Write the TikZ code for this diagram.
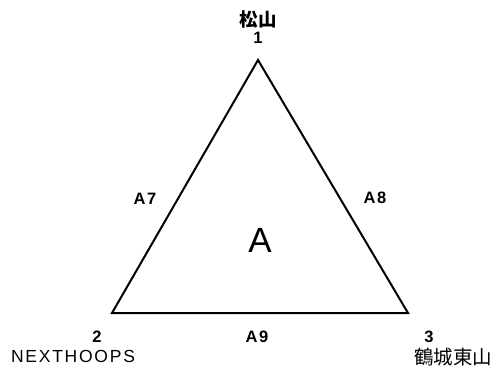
\documentclass[tikz,border=0pt]{standalone}
\usepackage{fontspec}
\setmainfont{Liberation Sans}
\newfontfamily\lab[LetterSpace=10]{Liberation Sans}
\newfontfamily\cjk{Noto Sans CJK JP}
\begin{document}
\begin{tikzpicture}[x=1pt,y=-1pt,
  edge/.style={line width=2pt,line join=miter},
  vlab/.style={inner sep=0pt,font=\lab\bfseries\fontsize{16.5}{16.5}\selectfont},
  elab/.style={inner sep=0pt,font=\lab\bfseries\fontsize{16.5}{16.5}\selectfont},
  nlab/.style={inner sep=0pt,font=\lab\fontsize{17.5}{17.5}\selectfont},
  jlab/.style={inner sep=0pt,font=\cjk\fontsize{19.5}{19.5}\selectfont}]
\useasboundingbox (0,0) rectangle (497,367);
\coordinate (v1) at (258,60);
\coordinate (v2) at (112,313);
\coordinate (v3) at (408,313);
\draw[edge] (v1) -- (v2) -- (v3) -- cycle;
\node[jlab,font=\cjk\bfseries\fontsize{18.5}{18.5}\selectfont] (n1name) at (258,19) {松山};
\node[vlab] (n1) at (258,38) {1};
\node[vlab] (n2) at (97,337) {2};
\node[nlab] (n2name) at (73,356) {NEXTHOOPS};
\node[vlab] (n3) at (429,337) {3};
\node[jlab] (n3name) at (453,357) {鶴城東山};
\node[elab] (a7) at (145,199) {A7};
\node[elab] (a8) at (375,198) {A8};
\node[elab] (a9) at (257,337) {A9};
\node[inner sep=0pt,font=\fontsize{35}{35}\selectfont] (a) at (260,240) {A};
\end{tikzpicture}
\end{document}
